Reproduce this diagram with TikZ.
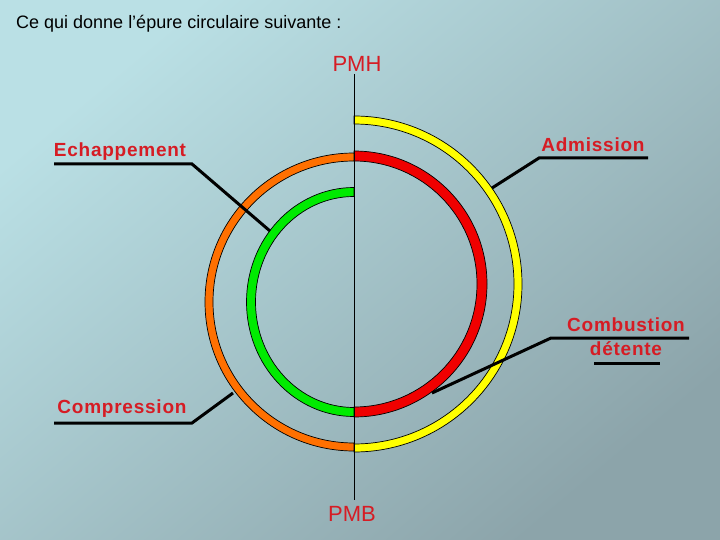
\documentclass[tikz,border=0pt]{standalone}
\usepackage{fontspec}
\setmainfont{Liberation Sans}
\newfontfamily\labfont[LetterSpace=4]{Liberation Sans}
\usepackage{tikz}
\definecolor{bgtop}{RGB}{186,224,229}
\definecolor{bgbot}{RGB}{140,164,170}
\definecolor{labred}{RGB}{214,28,36}
\definecolor{jaune}{RGB}{255,255,0}
\definecolor{rouge}{RGB}{240,0,0}
\definecolor{orange}{RGB}{255,112,0}
\definecolor{vert}{RGB}{0,235,0}
\tikzset{
  band/.style={draw=black, line width=0.7pt},
  leader/.style={draw=black, line width=3pt},
  label/.style={font=\labfont\fontsize{19}{21}\selectfont\bfseries, inner sep=0pt}
}

\begin{document}
\begin{tikzpicture}[x=1pt,y=-1pt]
%Background
\shade[top color=bgtop, bottom color=bgbot, shading angle=40] (0,0) rectangle (720,540);
\useasboundingbox (0,0) rectangle (720,540);

\node[anchor=west, inner sep=0pt, font=\fontsize{18}{20}\selectfont] (titre) at (16,24) {Ce qui donne l'épure circulaire suivante :};

%PMH - PMB axis
\node[inner sep=0pt, font=\fontsize{22}{24}\selectfont] (pmh) at (357,64) {\color{labred}PMH};
\node[inner sep=0pt, font=\fontsize{22}{24}\selectfont] (pmb) at (352,514) {\color{labred}PMB};
\coordinate (haut) at (354,74);
\coordinate (bas) at (354,500);

%Yellow arc (admission)
\filldraw[band, fill=jaune] (354,284) ++(-90:168) arc[start angle=-90, end angle=90, radius=168]
  -- ++(0,-8) arc[start angle=90, end angle=-90, radius=160] -- cycle;

%Red arc (combustion detente)
\filldraw[band, fill=rouge] (354,284) ++(-90:133) arc[start angle=-90, end angle=90, radius=133]
  -- ++(0,-10) arc[start angle=90, end angle=-90, radius=123] -- cycle;

%Orange arc (echappement)
\filldraw[band, fill=orange] (354,302) ++(270:149) arc[start angle=270, end angle=90, radius=149]
  -- ++(0,-8) arc[start angle=90, end angle=270, radius=141] -- cycle;

%Green arc (compression)
\filldraw[band, fill=vert] (354,302) ++(0,-114.5) arc[start angle=270, end angle=90, x radius=107.5, y radius=114.5]
  -- ++(0,-9) arc[start angle=90, end angle=270, x radius=98.5, y radius=105.5] -- cycle;

\draw[line width=0.8pt] (haut) -- (bas);

%Admission
\node[label] (adm) at (593,145) {\color{labred}Admission};
\coordinate (admA) at (492,188);
\coordinate (admB) at (539,158);
\coordinate (admC) at (648,158);
\draw[leader] (admA) -- (admB) -- (admC);

%Combustion detente
\node[label] (comb) at (626,325) {\color{labred}Combustion};
\node[label] (det) at (626,349) {\color{labred}détente};
\coordinate (combA) at (432,393);
\coordinate (combB) at (551,338);
\coordinate (combC) at (689,338);
\draw[leader] (combA) -- (combB) -- (combC);
\draw[leader] (594,363) -- (660,363);

%Echappement
\node[label] (ech) at (120,152) {\color{labred}Echappement};
\coordinate (echA) at (54,164);
\coordinate (echB) at (192,164);
\coordinate (echC) at (270,231);
\draw[leader] (echA) -- (echB) -- (echC);

%Compression
\node[label] (comp) at (122,409) {\color{labred}Compression};
\coordinate (compA) at (54,423);
\coordinate (compB) at (192,423);
\coordinate (compC) at (233,393);
\draw[leader] (compA) -- (compB) -- (compC);

\end{tikzpicture}
\end{document}
